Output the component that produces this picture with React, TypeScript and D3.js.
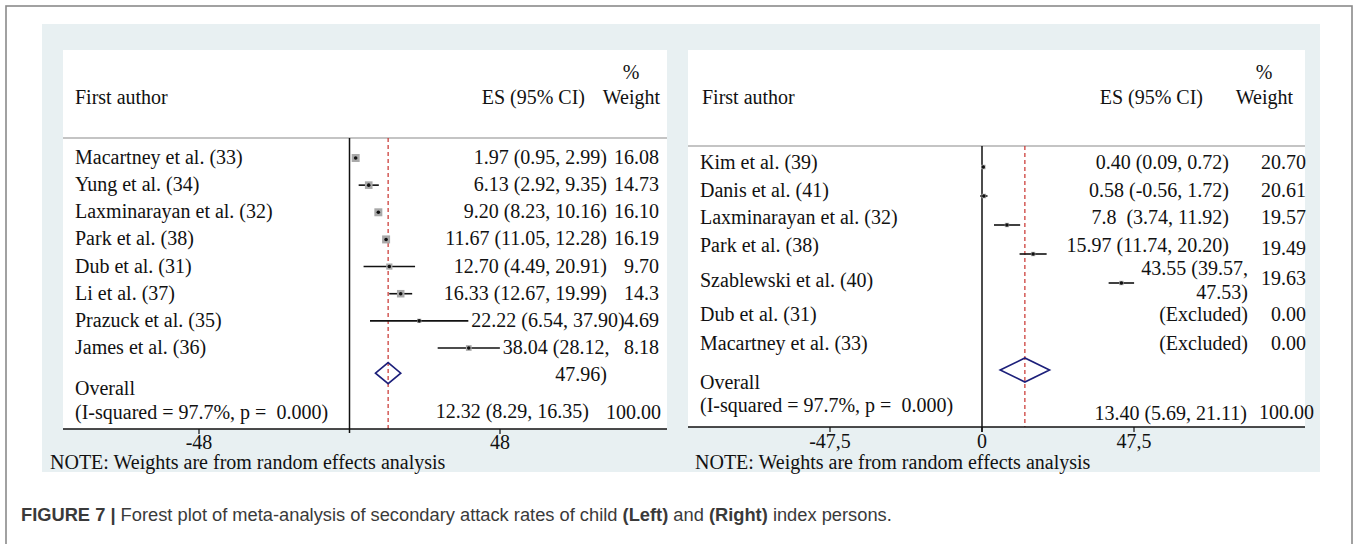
import React from 'react';
import * as d3 from 'd3';

// ---------- Data (left: child index persons) ----------
const leftAuthors = [
  'Macartney et al. (33)',
  'Yung et al. (34)',
  'Laxminarayan et al. (32)',
  'Park et al. (38)',
  'Dub et al. (31)',
  'Li et al. (37)',
  'Prazuck et al. (35)',
  'James et al. (36)',
];
const leftES = [1.97, 6.13, 9.2, 11.67, 12.7, 16.33, 22.22, 38.04];
const leftLo = [0.95, 2.92, 8.23, 11.05, 4.49, 12.67, 6.54, 28.12];
const leftHi = [2.99, 9.35, 10.16, 12.28, 20.91, 19.99, 37.9, 47.96];
const leftWeights = [16.08, 14.73, 16.1, 16.19, 9.7, 14.3, 4.69, 8.18];
const leftWeightLabels = ['16.08', '14.73', '16.10', '16.19', '9.70', '14.3', '4.69', '8.18'];
const leftESLabels = [
  '1.97 (0.95, 2.99)',
  '6.13 (2.92, 9.35)',
  '9.20 (8.23, 10.16)',
  '11.67 (11.05, 12.28)',
  '12.70 (4.49, 20.91)',
  '16.33 (12.67, 19.99)',
  '22.22 (6.54, 37.90)',
  '38.04 (28.12,\n47.96)',
];
const leftOverall = [12.32, 8.29, 16.35];
const leftOverallLabel = '12.32 (8.29, 16.35)';
const leftTicks = [-48, 48];
const leftTickLabels = ['-48', '48'];

// ---------- Data (right: adult index persons) ----------
const rightAuthors = [
  'Kim et al. (39)',
  'Danis et al. (41)',
  'Laxminarayan et al. (32)',
  'Park et al. (38)',
  'Szablewski et al. (40)',
  'Dub et al. (31)',
  'Macartney et al. (33)',
];
const rightES = [0.4, 0.58, 7.8, 15.97, 43.55, null, null];
const rightLo = [0.09, -0.56, 3.74, 11.74, 39.57, null, null];
const rightHi = [0.72, 1.72, 11.92, 20.2, 47.53, null, null];
const rightWeights = [20.7, 20.61, 19.57, 19.49, 19.63, 0, 0];
const rightWeightLabels = ['20.70', '20.61', '19.57', '19.49', '19.63', '0.00', '0.00'];
const rightESLabels = [
  '0.40 (0.09, 0.72)',
  '0.58 (-0.56, 1.72)',
  '7.8  (3.74, 11.92)',
  '15.97 (11.74, 20.20)',
  '43.55 (39.57,\n47.53)',
  '(Excluded)',
  '(Excluded)',
];
const rightOverall = [13.4, 5.69, 21.11];
const rightOverallLabel = '13.40 (5.69, 21.11)';
const rightTicks = [-47.5, 0, 47.5];
const rightTickLabels = ['-47,5', '0', '47,5'];

const overallText = 'Overall';
const isqText = '(I-squared = 97.7%, p =  0.000)';
const noteText = 'NOTE: Weights are from random effects analysis';
const overallWeightLabel = '100.00';

const SERIF = "'Liberation Serif', 'Times New Roman', serif";
const SANS = "'Liberation Sans', Arial, Helvetica, sans-serif";
const FS = 20;

let _ctx: CanvasRenderingContext2D | null = null;
function textWidth(t: string) {
  if (!_ctx) {
    const c = document.createElement('canvas');
    _ctx = c.getContext('2d');
  }
  if (!_ctx) return t.length * FS * 0.45;
  _ctx.font = `${FS}px 'Liberation Serif'`;
  return _ctx.measureText(t).width;
}

const T = (props: any) => (
  <text fontFamily={SERIF} fontSize={FS} fill="#111" dy="0.35em" style={{ whiteSpace: 'pre' }} {...props} />
);

export default function App() {
  // scales
  const xL = d3.scaleLinear().domain([-48, 48]).range([199, 500]);
  const xR = d3.scaleLinear().domain([-47.5, 47.5]).range([830, 1134]);
  const yL = d3.scaleLinear().domain([0, 7]).range([157, 347]);
  const yR = d3.scaleLinear().domain([0, 7]).range([167, 370]);
  const yRT = d3.scaleLinear().domain([0, 3]).range([162, 245]);
  const boxL = d3.scaleSqrt().domain([0, 16.2]).range([0, 8]);
  const boxR = d3.scaleSqrt().domain([0, 20.7]).range([0, 4.5]);

  const navy = '#1c1f7a';
  const red = '#c8302c';

  const L = { x0: 63, x1: 667, top: 50, sep: 138, axis: 429, textX: 75, esRight: 607, wRight: 659 };
  const R = { x0: 688, x1: 1305, top: 50, sep: 146, axis: 427, textX: 700, wRight: 1306 };
  const rightTextY = (i: number) => (i < 4 ? yRT(i) : yR(i) + (i === 4 ? -3 : 2));

  const leftRows = leftAuthors.map((a, i) => {
    const ty = yL(i);
    const my = yL(i) + 1;
    const lines = leftESLabels[i].split('\n');
    const w0 = textWidth(lines[0]);
    const start = Math.max(L.esRight - w0, xL(leftHi[i]) + 3);
    const s = boxL(leftWeights[i]);
    return (
      <g key={'l' + i}>
        <T x={L.textX} y={ty}>{a}</T>
        <line x1={xL(leftLo[i])} x2={xL(leftHi[i])} y1={my} y2={my} stroke="#111" strokeWidth={1.6} />
        <rect x={xL(leftES[i]) - s / 2} y={my - s / 2} width={s} height={s} fill="#a9a9a9" />
        <circle cx={xL(leftES[i])} cy={my} r={1.8} fill="#111" />
        <T x={start} y={ty}>{lines[0]}</T>
        {lines[1] && (
          <T x={L.esRight} y={yL(i + 1)} textAnchor="end">{lines[1]}</T>
        )}
        <T x={L.wRight} y={ty} textAnchor="end">{leftWeightLabels[i]}</T>
      </g>
    );
  });

  const rightRows = rightAuthors.map((a, i) => {
    const ty = rightTextY(i);
    const my = yR(i);
    const lines = rightESLabels[i].split('\n');
    const esRight = i < 4 ? 1229 : 1248;
    const es = rightES[i];
    const lo = rightLo[i];
    const hi = rightHi[i];
    const s = boxR(rightWeights[i]);
    return (
      <g key={'r' + i}>
        <T x={R.textX} y={ty}>{a}</T>
        {es != null && lo != null && hi != null && (
          <g>
            <line x1={xR(lo)} x2={xR(hi)} y1={my} y2={my} stroke="#111" strokeWidth={1.6} />
            <rect x={xR(es) - s / 2} y={my - s / 2} width={s} height={s} fill="#a9a9a9" />
            <circle cx={xR(es)} cy={my} r={1.8} fill="#111" />
          </g>
        )}
        {lines.length === 1 ? (
          <T x={esRight} y={ty} textAnchor="end">{lines[0]}</T>
        ) : (
          <g>
            <T x={esRight} y={ty - 12} textAnchor="end">{lines[0]}</T>
            <T x={esRight} y={ty + 12} textAnchor="end">{lines[1]}</T>
          </g>
        )}
        <T x={R.wRight} y={ty + (i === 3 ? 3 : i === 4 ? -2 : 0)} textAnchor="end">{rightWeightLabels[i]}</T>
      </g>
    );
  });

  const diamond = (x: d3.ScaleLinear<number, number>, v: number[], cy: number, hh: number) =>
    `M${x(v[1])},${cy} L${x(v[0])},${cy - hh} L${x(v[2])},${cy} L${x(v[0])},${cy + hh} Z`;

  return (
    <svg width={1357} height={544} style={{ position: 'absolute', left: 0, top: 0, background: '#fff' }}>
      {/* outer frame */}
      <rect x={6} y={6} width={1346} height={560} fill="#fff" stroke="#8a8a8a" strokeWidth={1.6} />
      {/* light background */}
      <rect x={42} y={24} width={1278} height={448} fill="#e8f0f2" />
      {/* white panels */}
      <rect x={L.x0} y={L.top} width={L.x1 - L.x0} height={L.axis - L.top} fill="#fff" />
      <rect x={R.x0} y={R.top} width={R.x1 - R.x0} height={R.axis - R.top} fill="#fff" />

      {/* ---------- LEFT ---------- */}
      <T x={L.textX} y={97}>First author</T>
      <T x={585} y={97} textAnchor="end">ES (95% CI)</T>
      <T x={631} y={72} textAnchor="middle">%</T>
      <T x={660} y={97} textAnchor="end">Weight</T>
      <line x1={L.x0} x2={L.x1} y1={L.sep} y2={L.sep} stroke="#c4c4c4" strokeWidth={2} />
      <line x1={xL(0)} x2={xL(0)} y1={L.sep} y2={L.axis + 4} stroke="#111" strokeWidth={1.5} />
      <line x1={xL(leftOverall[0])} x2={xL(leftOverall[0])} y1={L.sep} y2={L.axis} stroke={red} strokeWidth={1.2} strokeDasharray="4,3" />
      {leftRows}
      <path d={diamond(xL, leftOverall, yL(8) - 1, 10.5)} fill="none" stroke={navy} strokeWidth={1.6} />
      <T x={L.textX} y={yL(8.5)}>{overallText}</T>
      <T x={L.textX} y={yL(9.4)}>{isqText}</T>
      <T x={589} y={yL(9.35)} textAnchor="end">{leftOverallLabel}</T>
      <T x={661} y={yL(9.38)} textAnchor="end">{overallWeightLabel}</T>
      <line x1={L.x0} x2={L.x1} y1={L.axis} y2={L.axis} stroke="#111" strokeWidth={1.5} />
      {leftTicks.map((t, i) => (
        <g key={'lt' + i}>
          <line x1={xL(t)} x2={xL(t)} y1={L.axis} y2={L.axis + 5} stroke="#111" strokeWidth={1.2} />
          <T x={xL(t)} y={442} textAnchor="middle">{leftTickLabels[i]}</T>
        </g>
      ))}
      <T x={50} y={462}>{noteText}</T>

      {/* ---------- RIGHT ---------- */}
      <T x={702} y={97}>First author</T>
      <T x={1203} y={97} textAnchor="end">ES (95% CI)</T>
      <T x={1264} y={72} textAnchor="middle">%</T>
      <T x={1293} y={97} textAnchor="end">Weight</T>
      <line x1={R.x0} x2={R.x1} y1={R.sep} y2={R.sep} stroke="#c4c4c4" strokeWidth={2} />
      <line x1={xR(0)} x2={xR(0)} y1={R.sep} y2={R.axis + 5} stroke="#111" strokeWidth={1.5} />
      <line x1={xR(rightOverall[0])} x2={xR(rightOverall[0])} y1={R.sep} y2={R.axis} stroke={red} strokeWidth={1.2} strokeDasharray="4,3" />
      {rightRows}
      <path d={diamond(xR, rightOverall, yR(7), 12)} fill="none" stroke={navy} strokeWidth={1.6} />
      <T x={R.textX} y={yR(7.4)}>{overallText}</T>
      <T x={R.textX} y={yR(8.2)}>{isqText}</T>
      <T x={1247} y={yR(8.48)} textAnchor="end">{rightOverallLabel}</T>
      <T x={1314} y={yR(8.45)} textAnchor="end">{overallWeightLabel}</T>
      <line x1={R.x0} x2={R.x1} y1={R.axis} y2={R.axis} stroke="#111" strokeWidth={1.5} />
      {rightTicks.map((t, i) => (
        <g key={'rt' + i}>
          <line x1={xR(t)} x2={xR(t)} y1={R.axis} y2={R.axis + 5} stroke="#111" strokeWidth={1.2} />
          <T x={xR(t)} y={441} textAnchor="middle">{rightTickLabels[i]}</T>
        </g>
      ))}
      <T x={695} y={462}>{noteText}</T>

      {/* caption */}
      <text x={21} y={521} fontFamily={SANS} fontSize={18.3} fill="#3a3a3a">
        <tspan fontWeight="bold">FIGURE 7 |</tspan>
        <tspan> Forest plot of meta-analysis of secondary attack rates of child </tspan>
        <tspan fontWeight="bold">(Left)</tspan>
        <tspan> and </tspan>
        <tspan fontWeight="bold">(Right)</tspan>
        <tspan> index persons.</tspan>
      </text>
    </svg>
  );
}
